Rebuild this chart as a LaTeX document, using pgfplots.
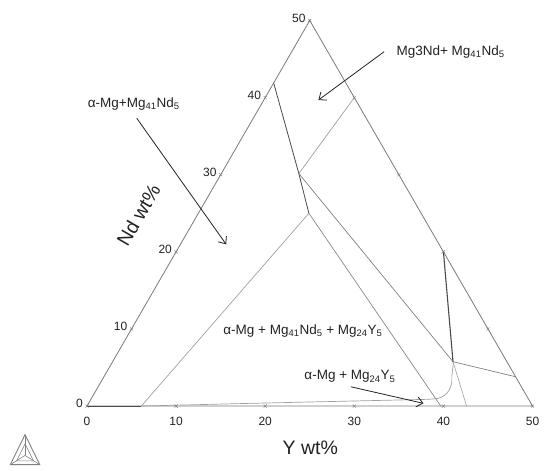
\documentclass[border=0pt]{standalone}
\usepackage{pgfplots}
\pgfplotsset{compat=1.18}
\usepackage{fontspec}
\setmainfont{Liberation Sans}
\usetikzlibrary{arrows.meta}
\definecolor{edge}{HTML}{7A7A7A}
\definecolor{phl}{HTML}{A0A0A0}
\definecolor{phd}{HTML}{4A4A4A}
\definecolor{txt}{HTML}{222222}
\begin{document}
\begin{tikzpicture}
\begin{axis}[scale only axis, x=8.91pt, y=7.71pt,
  xmin=-9.76, xmax=51.96, ymin=-8.3, ymax=52.66,
  hide axis, clip=false]
\path (rel axis cs:0,0) rectangle (rel axis cs:1,1);
% triangle frame
\addplot[edge, line width=0.8pt] table[x expr=\thisrow{Y}+0.5*\thisrow{Nd}, y=Nd] {
Y Nd
0 0
50 0
0 50
0 0
};
% dark boundary A-B-C
\addplot[phd, line width=0.8pt] table[x expr=\thisrow{Y}+0.5*\thisrow{Nd}, y=Nd] {
Y Nd
0 41.9
8.7 30.15
12.4 25.0
};
% B to right edge
\addplot[phl, line width=0.7pt] table[x expr=\thisrow{Y}+0.5*\thisrow{Nd}, y=Nd] {
Y Nd
8.7 30.15
10 40
};
% B to J to right edge
\addplot[phl!80!black, line width=0.7pt] table[x expr=\thisrow{Y}+0.5*\thisrow{Nd}, y=Nd] {
Y Nd
8.7 30.15
38.2 5.75
46.2 3.8
};
% C to base left
\addplot[phl, line width=0.7pt] table[x expr=\thisrow{Y}+0.5*\thisrow{Nd}, y=Nd] {
Y Nd
12.4 25.0
6.1 0
};
% C to base right
\addplot[phl!85!black, line width=0.7pt] table[x expr=\thisrow{Y}+0.5*\thisrow{Nd}, y=Nd] {
Y Nd
12.4 25.0
39.7 0
};
% J to base
\addplot[phl, line width=0.6pt] table[x expr=\thisrow{Y}+0.5*\thisrow{Nd}, y=Nd] {
Y Nd
38.2 5.75
42.6 0
};
% dark near-vertical boundary
\addplot[phd, line width=1.1pt] table[x expr=\thisrow{Y}+0.5*\thisrow{Nd}, y=Nd] {
Y Nd
30 20
38.2 5.75
};
% solvus curve
\addplot[phl, line width=0.7pt, smooth, tension=0.5] table[x expr=\thisrow{Y}+0.5*\thisrow{Nd}, y=Nd] {
Y Nd
38.2 5.75
38.34 5.54
39.0 3.9
39.46 2.94
39.6 2.0
39.45 1.45
38.93 1.0
37.7 0.87
};
\addplot[phl, line width=0.7pt] table[x expr=\thisrow{Y}+0.5*\thisrow{Nd}, y=Nd] {
Y Nd
37.7 0.87
18.1 0.35
6.1 0
};
\addplot[phd, line width=1.0pt] table[x expr=\thisrow{Y}+0.5*\thisrow{Nd}, y=Nd] {
Y Nd
0 0
6.1 0
};
% tick marks
\addplot[only marks, mark=x, mark size=2.2pt, edge] coordinates {
(0,0) (10,0) (20,0) (30,0) (40,0) (50,0)
(5,10) (10,20) (15,30) (20,40) (25,50)
(45,10) (40,20) (35,30) (30,40)
};
% tick labels
\node[anchor=north, inner sep=0pt, text=txt, font=\fontsize{12}{14}\selectfont] at (axis cs:0,-1.4) {0};
\node[anchor=north, inner sep=0pt, text=txt, font=\fontsize{12}{14}\selectfont] at (axis cs:10,-1.4) {10};
\node[anchor=north, inner sep=0pt, text=txt, font=\fontsize{12}{14}\selectfont] at (axis cs:20,-1.4) {20};
\node[anchor=north, inner sep=0pt, text=txt, font=\fontsize{12}{14}\selectfont] at (axis cs:30,-1.4) {30};
\node[anchor=north, inner sep=0pt, text=txt, font=\fontsize{12}{14}\selectfont] at (axis cs:40,-1.4) {40};
\node[anchor=north, inner sep=0pt, text=txt, font=\fontsize{12}{14}\selectfont] at (axis cs:50,-1.4) {50};
\node[anchor=east, inner sep=0pt, text=txt, font=\fontsize{12}{14}\selectfont] at (axis cs:-0.45,0.3) {0};
\node[anchor=east, inner sep=0pt, text=txt, font=\fontsize{12}{14}\selectfont] at (axis cs:4.55,10.3) {10};
\node[anchor=east, inner sep=0pt, text=txt, font=\fontsize{12}{14}\selectfont] at (axis cs:9.55,20.3) {20};
\node[anchor=east, inner sep=0pt, text=txt, font=\fontsize{12}{14}\selectfont] at (axis cs:14.55,30.3) {30};
\node[anchor=east, inner sep=0pt, text=txt, font=\fontsize{12}{14}\selectfont] at (axis cs:19.55,40.3) {40};
\node[anchor=east, inner sep=0pt, text=txt, font=\fontsize{12}{14}\selectfont] at (axis cs:24.55,50.3) {50};
% axis titles
\node[text=txt, inner sep=0pt, font=\fontsize{19.5}{21}\selectfont] at (axis cs:25.07,-5.45) {Y wt\%};
\node[text=txt, inner sep=0pt, rotate=60, font=\fontsize{19.5}{21}\selectfont] at (axis cs:5.78,24.77) {Nd wt\%};
% region labels
\node[anchor=west, inner sep=0pt, text=txt, font=\fontsize{13.5}{15}\selectfont] at (axis cs:34.72,45.88) {Mg3Nd+ Mg\textsubscript{41}Nd\textsubscript{5}};
\node[anchor=west, inner sep=0pt, text=txt, font=\fontsize{13.5}{15}\selectfont] at (axis cs:0.08,39.13) {α-Mg+Mg\textsubscript{41}Nd\textsubscript{5}};
\node[inner sep=0pt, text=txt, font=\fontsize{13.5}{15}\selectfont] at (axis cs:24.23,9.73) {α-Mg + Mg\textsubscript{41}Nd\textsubscript{5} + Mg\textsubscript{24}Y\textsubscript{5}};
\node[inner sep=0pt, text=txt, font=\fontsize{13.5}{15}\selectfont] at (axis cs:29.51,3.80) {α-Mg + Mg\textsubscript{24}Y\textsubscript{5}};
% arrows
\draw[txt, line width=0.8pt, -{Straight Barb[length=6pt, width=10pt]}] (axis cs:33.34,45.95) -- (axis cs:25.98,39.69);
\draw[txt, line width=0.8pt, -{Straight Barb[length=6pt, width=10pt]}] (axis cs:5.59,37.32) -- (axis cs:15.62,20.97);
\draw[txt, line width=0.8pt, -{Straight Barb[length=6pt, width=10pt]}] (axis cs:29.61,2.50) -- (axis cs:37.76,0.35);
% logo
\draw[gray, line width=0.9pt] (axis cs:-8.6,-7.6) -- (axis cs:-5.3,-7.6) -- (axis cs:-6.95,-3.7) -- cycle;
\draw[gray, line width=0.6pt] (axis cs:-7.9,-7.1) -- (axis cs:-6.0,-7.1) -- (axis cs:-6.95,-4.9) -- cycle;
\draw[gray, line width=0.6pt] (axis cs:-8.6,-7.6) -- (axis cs:-6.95,-6.4) -- (axis cs:-5.3,-7.6);
\draw[gray, line width=0.6pt] (axis cs:-6.95,-6.4) -- (axis cs:-6.95,-3.7);
\end{axis}
\end{tikzpicture}
\end{document}
